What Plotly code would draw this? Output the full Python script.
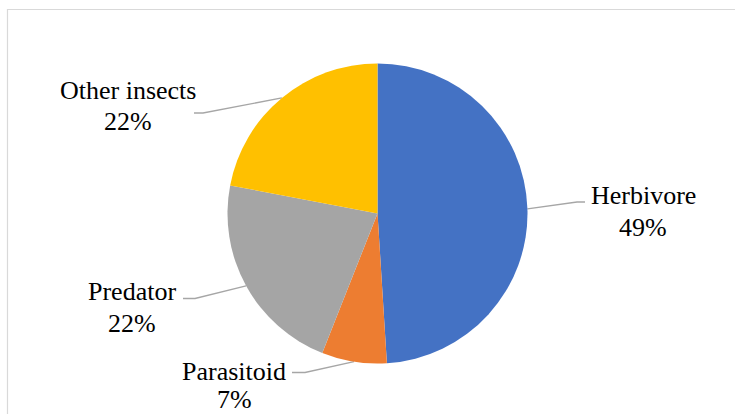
import math
import plotly.graph_objects as go

# ---- data ----
categories = ["Herbivore", "Parasitoid", "Predator", "Other insects"]
values = [49, 7, 22, 22]
colors = ["#4472C4", "#ED7D31", "#A5A5A5", "#FFC000"]

# ---- layout (pixel geometry of the 735x414 canvas) ----
W, H = 735, 414
CX, CY, R = 377.5, 213.5, 150
FONT = "Liberation Serif"
FS = 26
# per-label: text centre x, y of line 1 / line 2, elbow point, end of horizontal stub
label_pos = [
    dict(tx=643, y1=194, y2=226, ex=577, ey=202, hx=585),
    dict(tx=234, y1=370, y2=398, ex=305, ey=372.5, hx=292),
    dict(tx=132, y1=290.5, y2=322, ex=195, ey=298.5, hx=183),
    dict(tx=128, y1=89, y2=120, ex=203, ey=113, hx=194),
]

total = sum(values)
fig = go.Figure()
fig.add_trace(go.Pie(
    labels=categories, values=values, sort=False, direction="clockwise",
    rotation=0, marker=dict(colors=colors, line=dict(width=0)),
    textinfo="none", hoverinfo="label+percent", showlegend=False,
    domain=dict(x=[(CX - R) / W, (CX + R) / W],
                y=[(H - CY - R) / H, (H - CY + R) / H]),
))

annotations = []
cum = 0
for name, v, lp in zip(categories, values, label_pos):
    mid = (cum + v / 2) / total * 2 * math.pi
    cum += v
    ax = CX + R * math.sin(mid)
    ay = CY - R * math.cos(mid)
    fig.add_trace(go.Scatter(
        x=[ax, lp["ex"], lp["hx"]], y=[ay, lp["ey"], lp["ey"]],
        mode="lines", line=dict(color="#A6A6A6", width=1.3),
        hoverinfo="skip", showlegend=False,
    ))
    pct = f"{round(v / total * 100)}%"
    for txt, yy in ((name, lp["y1"]), (pct, lp["y2"])):
        annotations.append(dict(
            x=lp["tx"], y=yy + 1, xref="x", yref="y", text=txt, showarrow=False,
            xanchor="center", yanchor="middle",
            font=dict(family=FONT, size=FS, color="#000000"),
        ))

fig.update_layout(
    width=W, height=H, margin=dict(l=0, r=0, t=0, b=0),
    paper_bgcolor="white", plot_bgcolor="rgba(0,0,0,0)",
    xaxis=dict(range=[0, W], visible=False, fixedrange=True, domain=[0, 1]),
    yaxis=dict(range=[H, 0], visible=False, fixedrange=True, domain=[0, 1]),
    annotations=annotations,
    shapes=[dict(type="rect", xref="x", yref="y", x0=7.5, y0=9.5, x1=760, y1=440,
                 line=dict(color="#D9D9D9", width=1.2), fillcolor="rgba(0,0,0,0)",
                 layer="below")],
)

fig.write_html("out.html")
